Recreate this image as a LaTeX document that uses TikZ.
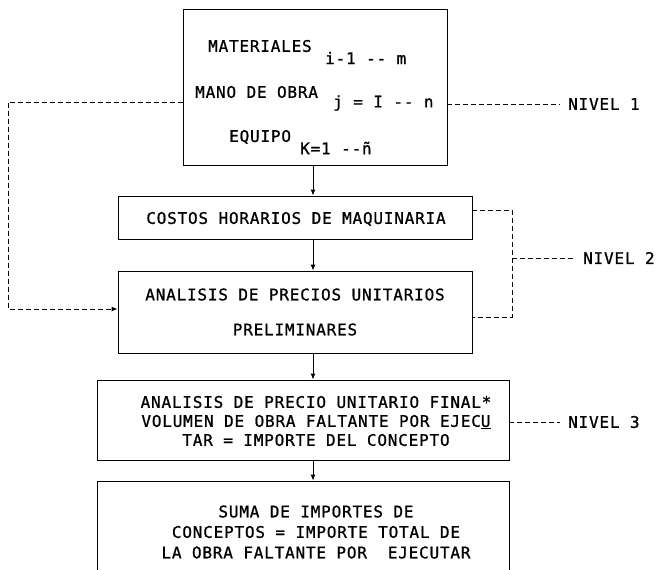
\documentclass[tikz,border=0pt]{standalone}
\usepackage{fontspec}
\newfontfamily\typefont{DejaVu Sans Mono}[LetterSpace=5, FakeBold=1]
\usetikzlibrary{arrows.meta, positioning}

\begin{document}
\begin{tikzpicture}[
    x=1pt, y=-1pt,
    every node/.style={font=\typefont\fontsize{16}{20}\selectfont, inner sep=0pt},
    box/.style={draw, line width=0.9pt, minimum width=#1},
    arrow/.style={-{Latex[length=6pt, width=5pt]}, line width=0.9pt},
    link/.style={line width=0.9pt, dash pattern=on 5pt off 3pt}
]
\useasboundingbox (0,0) rectangle (659,570);
\clip (0,0) rectangle (659,570);

% Boxes
\node[box=264pt, minimum height=156pt] (insumos) at (315,87) {};
\node[box=354pt, minimum height=43pt] (costos) at (295,217.5) {};
\node[box=354pt, minimum height=82pt] (prelim) at (295,312) {};
\node[box=412pt, minimum height=80pt] (final) at (303,420) {};
\node[box=412pt, minimum height=100pt] (suma) at (303,531) {};

% Texts of the top box
\node[anchor=west] (mat) at (208,46) {MATERIALES};
\node[anchor=west] (matidx) at (325,58) {i-1 -- m};
\node[anchor=west] (mano) at (195,92) {MANO DE OBRA};
\node[anchor=west] (manoidx) at (333,103) {j = I -- n};
\node[anchor=west] (equipo) at (229,137) {EQUIPO};
\node[anchor=west] (equipoidx) at (300,148) {K=1 --ñ};

% Texts of the other boxes
\node (costostxt) at (296,219) {COSTOS HORARIOS DE MAQUINARIA};
\node (prelimtxt) at (295,312) [align=center, font=\typefont\fontsize{16}{35}\selectfont]
    {ANALISIS DE PRECIOS UNITARIOS\\PRELIMINARES};
\node (finaltxt) at (316,421) [align=center, font=\typefont\fontsize{16}{19}\selectfont]
    {ANALISIS DE PRECIO UNITARIO FINAL*\\VOLUMEN DE OBRA FALTANTE POR EJEC\underline{U}\\TAR = IMPORTE DEL CONCEPTO};
\node (sumatxt) at (316,532) [align=center, font=\typefont\fontsize{16}{20.5}\selectfont]
    {SUMA DE IMPORTES DE\\CONCEPTOS = IMPORTE TOTAL DE\\LA OBRA FALTANTE POR~~EJECUTAR};

% Level labels
\node[anchor=west] (niv1) at (568,104) {NIVEL 1};
\node[anchor=west] (niv2) at (583,258) {NIVEL 2};
\node[anchor=west] (niv3) at (568,422) {NIVEL 3};

% Arrows
\coordinate (stem) at (313,0);
\draw[arrow] (insumos.south -| stem) -- (costos.north -| stem);
\draw[arrow] (costos.south -| stem) -- (prelim.north -| stem);
\draw[arrow] (prelim.south -| stem) -- (final.north -| stem);
\draw[arrow] (final.south -| stem) -- (suma.north -| stem);

% Dashed links
\coordinate (lft) at (8,0);
\coordinate (rgt) at (512,0);
\coordinate (m1) at ([yshift=-15pt]insumos.west);
\coordinate (m3) at ([yshift=3pt]prelim.west);
\coordinate (c2) at ([yshift=7.5pt]costos.east);
\coordinate (c3) at ([yshift=-5pt]prelim.east);
\draw[link, -{Latex[length=6pt, width=5pt]}] (m1) -| (lft |- m3) -- (m3);
\draw[link] ([yshift=-17pt]insumos.east) -- ([xshift=-8pt]niv1.west);
\draw[link] (c2) -| (rgt |- c3) -- (c3);
\draw[link] (rgt |- niv2.west) -- ([xshift=-8pt]niv2.west);
\draw[link] ([yshift=-2pt]final.east) -- ([xshift=-8pt]niv3.west);

\end{tikzpicture}
\end{document}
